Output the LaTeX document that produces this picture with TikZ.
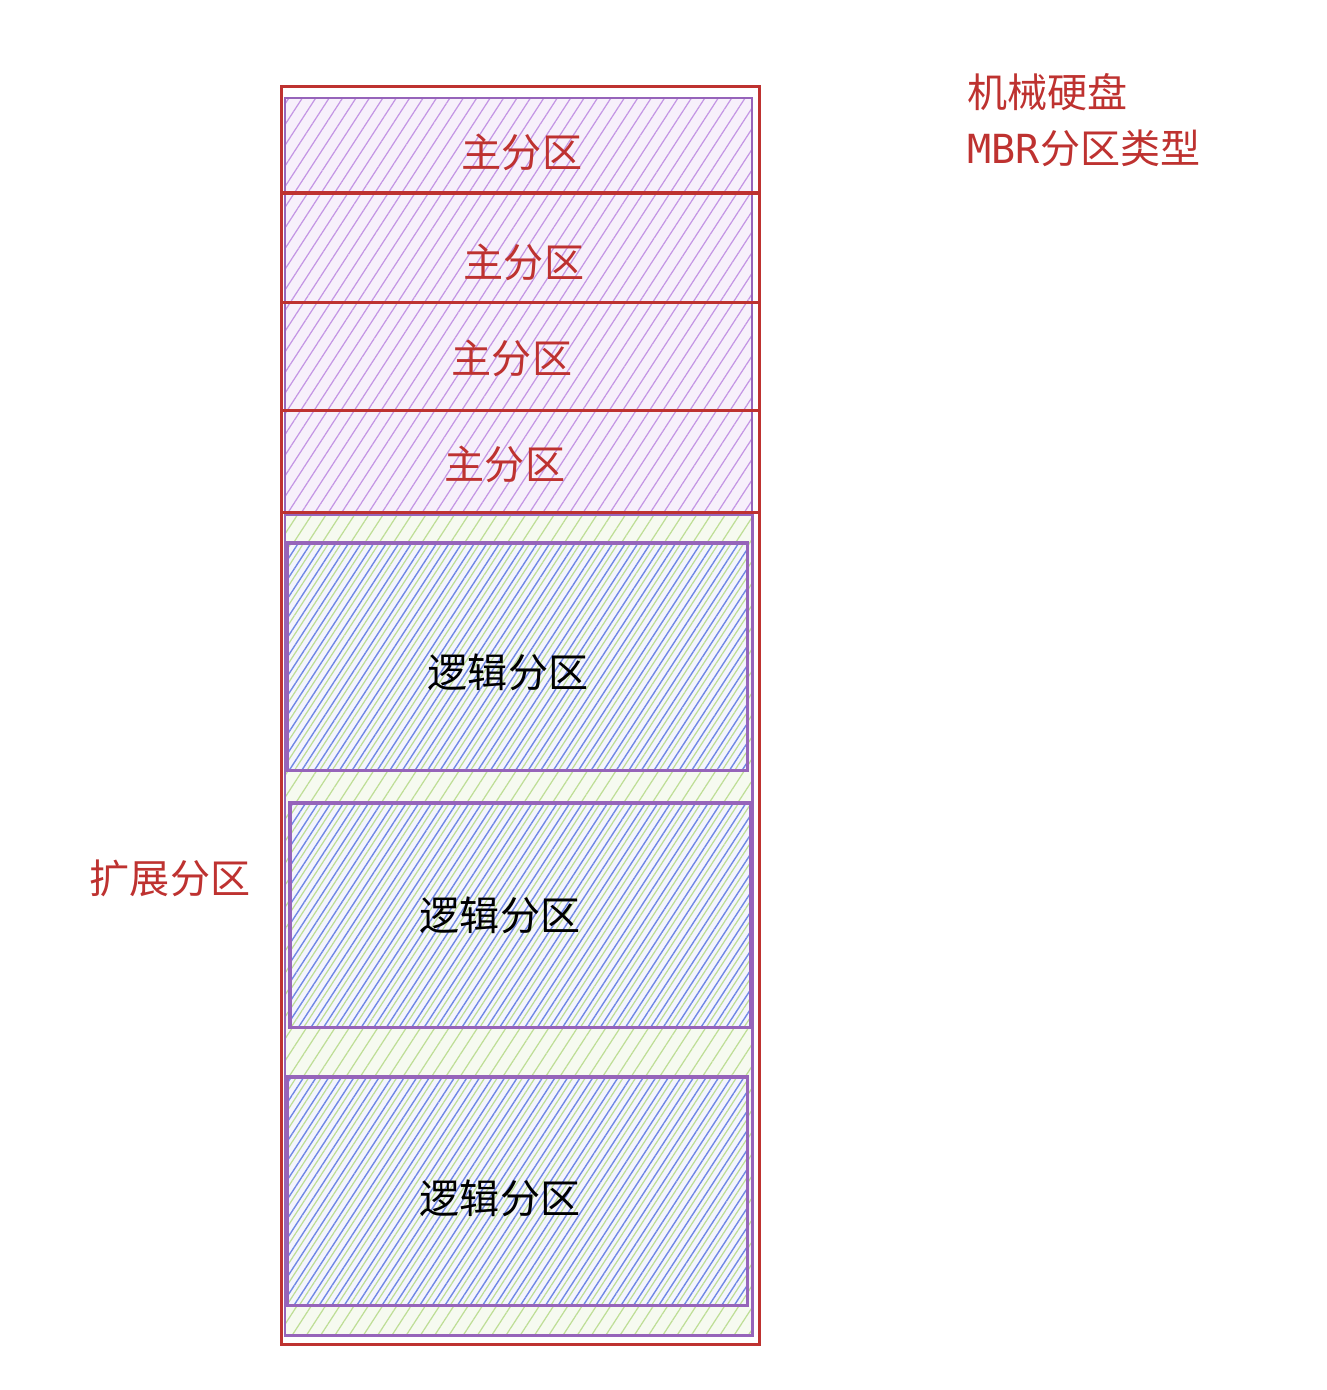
\documentclass[tikz,border=0pt]{standalone}
\usepackage{fontspec}
\setmainfont{Noto Sans CJK SC}
\setmonofont{DejaVu Sans Mono}
\usetikzlibrary{positioning,patterns.meta}

\definecolor{diskred}{RGB}{190,50,48}
\definecolor{hatchpurple}{RGB}{196,150,228}
\definecolor{hatchgreen}{RGB}{190,222,150}
\definecolor{hatchblue}{RGB}{112,136,228}
\definecolor{edgepurple}{RGB}{150,100,186}

\begin{document}
\begin{tikzpicture}[
      x=0.01cm, y=-0.01cm,
      node distance=0pt
    ]

    \tikzstyle{label} = [font=\fontsize{11.4}{13}\selectfont]
    \tikzstyle{primrow} = [rectangle, minimum width=4.67cm, inner sep=0pt, outer sep=0pt, preaction={fill=hatchpurple!14}, pattern={Lines[angle=57,distance=3.2pt,line width=0.35pt]}, pattern color=hatchpurple]
    \tikzstyle{extzone} = [rectangle, inner sep=0pt, outer sep=0pt, draw=edgepurple, line width=0.8pt, preaction={fill=hatchgreen!14}, pattern={Lines[angle=57,distance=3.4pt,line width=0.35pt]}, pattern color=hatchgreen]
    \tikzstyle{logbox} = [rectangle, inner sep=0pt, outer sep=0pt, draw=edgepurple, line width=0.9pt, preaction={fill=hatchblue!8}, preaction={pattern={Lines[angle=57,distance=3pt,line width=0.35pt,xshift=1.5pt]}, pattern color=hatchgreen}, pattern={Lines[angle=57,distance=3pt,line width=0.4pt]}, pattern color=hatchblue]
    \tikzstyle{divline} = [diskred, line width=0.9pt]

    \useasboundingbox (0,0) rectangle (1326,1390);

    % extended partition
    \node [extzone, minimum width=4.67cm, minimum height=8.2cm, anchor=north west] (ext) at (285,515) {};
    \node [logbox, minimum width=4.6cm, minimum height=2.27cm, anchor=north west] (log1) at (287,543) {};
    \node [logbox, minimum width=4.6cm, minimum height=2.24cm, anchor=north west] (log2) at (290,803) {};
    \node [logbox, minimum width=4.6cm, minimum height=2.28cm, anchor=north west] (log3) at (287,1077) {};

    % primary partitions
    \node [primrow, minimum height=0.95cm, anchor=north west] (prim1) at (285,98) {};
    \node [primrow, minimum height=1.09cm, below=of prim1] (prim2) {};
    \node [primrow, minimum height=1.08cm, below=of prim2] (prim3) {};
    \node [primrow, minimum height=1.02cm, below=of prim3] (prim4) {};
    \draw [edgepurple, line width=0.6pt] (prim1.north west) rectangle (prim4.south east);

    % the disk
    \node [draw=diskred, line width=0.9pt, minimum width=4.78cm, minimum height=12.57cm, inner sep=0pt, anchor=north west] (disk) at (280,85) {};
    \foreach \row in {prim1,prim2,prim3,prim4}
      \draw [divline] (disk.west |- \row.south) -- (disk.east |- \row.south);

    % texts
    \node [label, text=diskred] (prim1text) at (522,152) {主分区};
    \node [label, text=diskred] (prim2text) at (524,262) {主分区};
    \node [label, text=diskred] (prim3text) at (512,358) {主分区};
    \node [label, text=diskred] (prim4text) at (505,464) {主分区};
    \node [label] (log1text) at (508,672) {逻辑分区};
    \node [label] (log2text) at (500,915) {逻辑分区};
    \node [label] (log3text) at (500,1198) {逻辑分区};

    \node [label, text=diskred] (extlabel) at (170,878) {扩展分区};
    \node [label, text=diskred, anchor=west, inner sep=0pt] (title) at (967,92) {机械硬盘};
    \node [label, text=diskred, anchor=west, inner sep=0pt] (subtitle) at (967,148) {{\ttfamily MBR}分区类型};

\end{tikzpicture}
\end{document}
